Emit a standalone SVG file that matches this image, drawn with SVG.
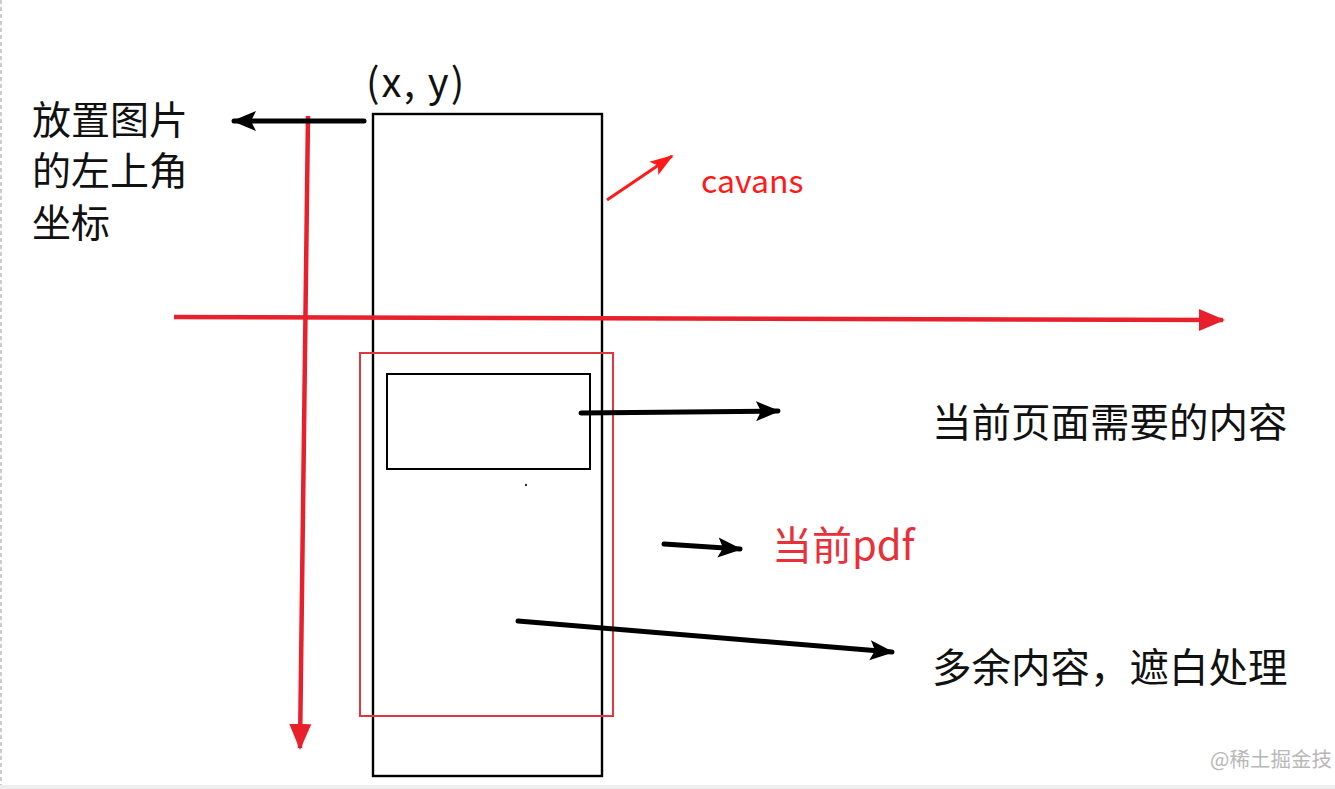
<svg xmlns="http://www.w3.org/2000/svg" width="1335" height="789" viewBox="0 0 1335 789">
<style>
.cjk{font-family:"Noto Sans CJK SC","Noto Sans",sans-serif;}
.blk{fill:#111;}
.red{fill:#e8303a;}
.ln-b{stroke:#000;stroke-width:5;stroke-linecap:round;fill:none;}
.ln-r{stroke:#e8202c;stroke-width:4.5;fill:none;}
</style>
<defs>
<marker id="ab" markerUnits="userSpaceOnUse" markerWidth="30" markerHeight="30" refX="22" refY="12" orient="auto" viewBox="0 0 30 24">
<path d="M0,2 L24,12 L0,22 L5,12 Z" fill="#000"/>
</marker>
<marker id="ar" markerUnits="userSpaceOnUse" markerWidth="30" markerHeight="30" refX="24" refY="12" orient="auto" viewBox="0 0 30 24">
<path d="M0,1 L26,12 L0,23 Z" fill="#e8202c"/>
</marker>
<marker id="ac" markerUnits="userSpaceOnUse" markerWidth="26" markerHeight="26" refX="22" refY="9" orient="auto" viewBox="0 0 26 18">
<path d="M0,1 L24,9 L0,17 L5,9 Z" fill="#ff1a1a"/>
</marker>
</defs>
<rect width="1335" height="789" fill="#fff"/>
<line x1="1" y1="0" x2="1" y2="789" stroke="#999" stroke-width="1" stroke-dasharray="4,3"/>
<rect x="0" y="785" width="1335" height="4" fill="#eee"/>

<g id="canvas-rect">
<rect x="373" y="114" width="229" height="662" fill="none" stroke="#000" stroke-width="2.4"/>
</g>
<g id="pdf-rect">
<rect x="360" y="353" width="253" height="363" fill="none" stroke="#e0363e" stroke-width="2"/>
</g>
<g id="content-rect">
<rect x="387" y="374" width="203" height="95" fill="none" stroke="#000" stroke-width="2"/>
<circle cx="526" cy="485" r="1.2" fill="#333"/>
</g>

<g id="connectors">
<line class="ln-r" x1="174" y1="317" x2="1223" y2="320" marker-end="url(#ar)"/>
<line class="ln-r" x1="308" y1="116" x2="300" y2="748" marker-end="url(#ar)"/>
<line class="ln-b" x1="364" y1="121" x2="234" y2="121" marker-end="url(#ab)"/>
<line x1="607" y1="200" x2="672" y2="156" stroke="#ff1a1a" stroke-width="3" marker-end="url(#ac)"/>
<line class="ln-b" x1="581" y1="413" x2="778" y2="411" marker-end="url(#ab)"/>
<line class="ln-b" x1="664" y1="544" x2="740" y2="549" marker-end="url(#ab)"/>
<line class="ln-b" x1="518" y1="621" x2="892" y2="652" marker-end="url(#ab)"/>
</g>

<g id="label-xy">
<text x="366" y="97" class="cjk blk" font-size="40" letter-spacing="2">(x, y)</text>
</g>
<g id="label-topleft">
<text x="32" y="134" class="cjk blk" font-size="39">放置图片</text>
<text x="32" y="185" class="cjk blk" font-size="39">的左上角</text>
<text x="32" y="237" class="cjk blk" font-size="39">坐标</text>
</g>
<g id="label-cavans">
<text x="701" y="193" class="cjk" fill="#ff1a1a" font-size="32">cavans</text>
</g>
<g id="label-content">
<text x="932" y="437" class="cjk blk" font-size="39.5">当前页面需要的内容</text>
</g>
<g id="label-pdf">
<text x="772" y="560" class="cjk red" font-size="40">当前pdf</text>
</g>
<g id="label-extra">
<text x="932" y="682" class="cjk blk" font-size="39.5">多余内容，遮白处理</text>
</g>
<g id="watermark">
<text x="1210" y="767" class="cjk" fill="#b8b8b8" font-size="20.5">@稀土掘金技</text>
</g>
</svg>
